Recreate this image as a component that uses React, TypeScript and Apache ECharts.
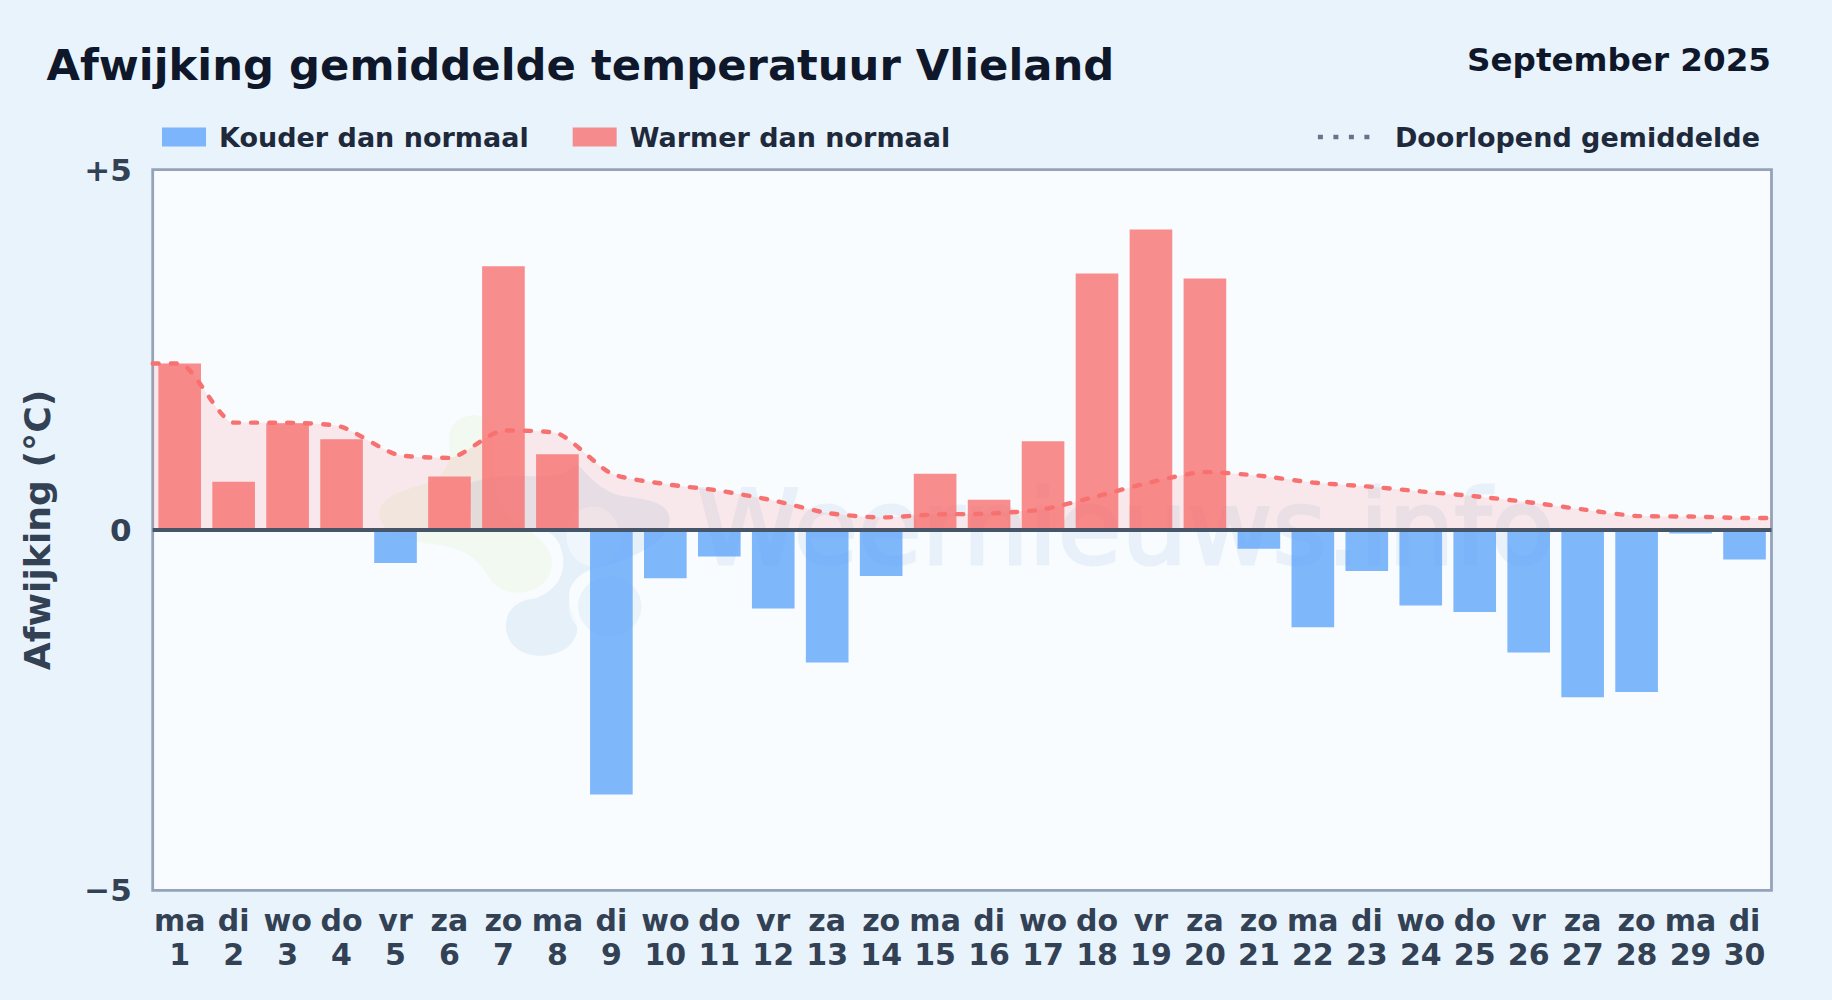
import React, { useEffect, useRef } from "react";
import * as echarts from "echarts";

const FONT = "DejaVu Sans";
const weekdays = ["ma","di","wo","do","vr","za","zo","ma","di","wo","do","vr","za","zo","ma","di","wo","do","vr","za","zo","ma","di","wo","do","vr","za","zo","ma","di"];
const days = ["1","2","3","4","5","6","7","8","9","10","11","12","13","14","15","16","17","18","19","20","21","22","23","24","25","26","27","28","29","30"];
const deviations = [2.31,0.67,1.48,1.26,-0.46,0.74,3.66,1.05,-3.67,-0.67,-0.37,-1.09,-1.84,-0.64,0.78,0.42,1.23,3.56,4.17,3.49,-0.26,-1.35,-0.57,-1.05,-1.14,-1.7,-2.32,-2.25,-0.05,-0.41];
const runningMean = [2.31,1.49,1.487,1.43,1.052,1.0,1.38,1.339,0.782,0.637,0.545,0.409,0.236,0.174,0.214,0.227,0.286,0.468,0.663,0.804,0.753,0.658,0.604,0.535,0.468,0.385,0.285,0.194,0.186,0.166];
const yTicks: Record<string, string> = { "5": "+5", "0": "0", "-5": "\u22125" };
const legendCold = "Kouder dan normaal";
const legendWarm = "Warmer dan normaal";
const legendMean = "Doorlopend gemiddelde";

echarts.graphic.registerShape("wmGreen", echarts.graphic.extendPath(
  "M340 45C290 50 265 80 268 120C272 170 270 200 230 240C160 265 60 280 58 340C55 390 120 420 210 432C300 440 350 470 385 530C410 575 470 590 520 570C580 545 590 480 560 440C520 390 480 380 440 340C400 290 400 170 400 100C395 65 370 45 340 45Z", {}));
echarts.graphic.registerShape("wmBlue", echarts.graphic.extendPath(
  "M330 250C400 220 500 230 560 230C620 230 640 190 655 195C700 240 730 280 800 290C880 300 930 315 930 360C930 420 830 470 750 495C690 505 645 525 630 570C620 620 648 640 652 680C655 730 610 765 545 768C490 770 440 740 438 680C438 630 470 600 530 595C590 570 615 530 610 470C600 410 570 390 520 385L335 385Z", {}));

export default function App() {
  const ref = useRef<HTMLDivElement>(null);
  useEffect(() => {
    document.body.style.margin = "0";
    const chart = echarts.init(ref.current!, undefined, { renderer: "svg" });
    const wm = { x: 360, y: 400, scaleX: 1 / 3, scaleY: 1 / 3, z: 1, silent: true };
    chart.setOption({
      animation: false,
      backgroundColor: "#e9f3fc",
      textStyle: { fontFamily: FONT },
      title: [
        { text: "Afwijking gemiddelde temperatuur Vlieland", left: 41.5, top: 38, textStyle: { fontFamily: FONT, fontSize: 43.3, fontWeight: "bold", color: "#0f172a" } },
        { text: "September 2025", right: 56, top: 38, textStyle: { fontFamily: FONT, fontSize: 32.6, fontWeight: "bold", color: "#0f172a" } },
      ],
      legend: [
        { left: 162, top: 123.5, itemWidth: 44, itemHeight: 19, itemGap: 44, padding: 0, selectedMode: false, icon: "rect",
          data: [legendCold, legendWarm],
          textStyle: { fontFamily: FONT, fontSize: 27, fontWeight: "bold", color: "#1e293b", padding: [0, 0, 0, 8] } },
        { right: 72, top: 123.5, itemWidth: 56, itemHeight: 19, padding: 0, selectedMode: false,
          data: [{ name: legendMean, lineStyle: { color: "#64748b", type: [5, 10.5], width: 4.5, cap: "butt" }, itemStyle: { opacity: 0 } }],
          textStyle: { fontFamily: FONT, fontSize: 27, fontWeight: "bold", color: "#1e293b", padding: [0, 0, 0, 16] } },
      ],
      grid: { show: true, left: 152.7, right: 60.5, top: 169.6, bottom: 109.7, backgroundColor: "#f8fcff", borderColor: "#94a3b8", borderWidth: 2.8 },
      xAxis: [
        { type: "category", data: weekdays.map((w, i) => `${w}\n${days[i]}`), axisLine: { show: false }, axisTick: { show: false },
          axisLabel: { interval: 0, margin: 13, fontFamily: FONT, fontSize: 30, fontWeight: "bold", color: "#334155", lineHeight: 34 } },
        { type: "value", min: 0, max: 30, show: false },
      ],
      yAxis: {
        type: "value", min: -5, max: 5, interval: 5,
        name: "Afwijking (\u00b0C)", nameLocation: "middle", nameGap: 97, nameRotate: 90,
        nameTextStyle: { fontFamily: FONT, fontSize: 36.2, fontWeight: "bold", color: "#334155" },
        axisLine: { show: false }, axisTick: { show: false }, splitLine: { show: false },
        axisLabel: { margin: 21, fontFamily: FONT, fontSize: 31, fontWeight: "bold", color: "#334155", formatter: (v: number) => yTicks[String(v)] ?? "" },
      },
      graphic: [
        { type: "wmGreen", ...wm, style: { fill: "#add544", opacity: 0.08 } },
        { type: "wmBlue", ...wm, style: { fill: "#448dc3", opacity: 0.1 } },
        { type: "ellipse", ...wm, shape: { cx: 745, cy: 615, rx: 118, ry: 108 }, style: { fill: "#f8fcff", opacity: 0.7 } },
        { type: "ellipse", ...wm, shape: { cx: 750, cy: 620, rx: 95, ry: 90 }, style: { fill: "#448dc3", opacity: 0.08 } },
        { type: "ellipse", ...wm, shape: { cx: 700, cy: 410, rx: 80, ry: 90 }, style: { fill: "#f8fcff", opacity: 0.55 } },
        { type: "text", x: 697, y: 476, z: 1, silent: true, style: { text: "Weernieuws.info", fontFamily: FONT, fontSize: 104, fill: "#e8f1f9", stroke: "#e8f1f9", lineWidth: 3 } },
      ],
      series: [
        { name: legendCold, type: "bar", stack: "d", barWidth: "79%", z: 3, itemStyle: { color: "#60a5fa", opacity: 0.8 },
          data: deviations.map((v) => (v < 0 ? v : null)) },
        { name: legendWarm, type: "bar", stack: "d", barWidth: "79%", z: 3, itemStyle: { color: "#f87171", opacity: 0.8 },
          data: deviations.map((v) => (v > 0 ? v : null)),
          markLine: { silent: true, symbol: "none", z: 6, label: { show: false }, lineStyle: { color: "#475569", width: 4, type: "solid" }, data: [{ yAxis: 0 }] } },
        { name: legendMean, type: "line", xAxisIndex: 1, z: 5, symbol: "none", smooth: 0.22,
          lineStyle: { color: "#f87171", width: 4.4, type: [6, 12], cap: "round" },
          areaStyle: { color: "#f87171", opacity: 0.14, origin: 0 },
          data: [[0, runningMean[0]], ...runningMean.map((v, i) => [i + 0.5, v]), [30, runningMean[29]]] },
      ],
    });
    return () => chart.dispose();
  }, []);
  return <div ref={ref} style={{ position: "absolute", left: 0, top: 0, width: 1832, height: 1000 }} />;
}
